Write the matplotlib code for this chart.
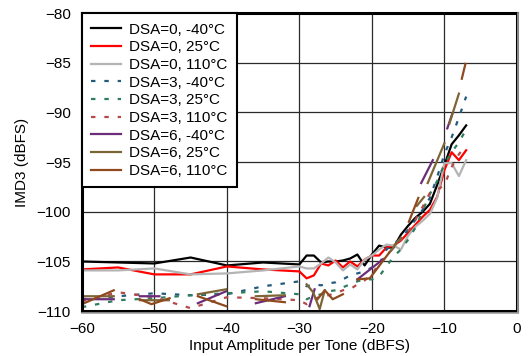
import numpy as np
import matplotlib
matplotlib.use("Agg")
import matplotlib.pyplot as plt
from matplotlib.lines import Line2D

nan = np.nan

# input amplitude grid for DSA=0 / DSA=3 sweeps
x_amp = [-60, -55, -50, -45, -40, -35, -30, -29, -28, -27, -26, -25, -24, -23, -22,
         -21, -20, -19, -18, -17, -16, -15, -14, -13, -12, -11, -10, -9, -8, -7]

dsa0_m40 = [-105.0, -105.1, -105.2, -104.6, -105.4, -105.1, -105.3, -104.4, -104.4, -105.1,
            -105.0, -105.0, -104.9, -104.7, -104.3, -105.4, -104.3, -103.4, -103.6, -103.6,
            -102.3, -101.4, -100.6, -100.0, -99.2, -97.3, -95.3, -93.2, -92.3, -91.3]
dsa0_25 = [-105.8, -105.6, -106.3, -106.3, -105.5, -105.8, -106.0, -106.7, -106.4, -105.2,
           -105.4, -104.9, -105.6, -105.0, -105.5, -104.8, -104.4, -104.4, -103.6, -103.4,
           -102.9, -102.1, -101.3, -100.5, -99.8, -98.5, -95.8, -94.0, -94.8, -93.8]
dsa0_110 = [-105.9, -105.9, -105.7, -106.3, -106.2, -105.9, -105.5, -105.7, -105.7, -105.2,
            -104.6, -105.1, -105.9, -105.3, -105.8, -104.8, -104.4, -103.8, -103.3, -103.4,
            -103.8, -102.4, -101.5, -100.9, -100.2, -98.6, -95.1, -95.1, -96.4, -94.8]

dsa3_m40 = [-108.8, -108.5, -108.2, -108.4, -108.3, -107.5, -107.0, -107.5, -107.3, -107.4,
            -107.2, -107.1, -106.8, -106.4, -106.2, -106.0, -105.6, -105.3, -103.8, -103.2,
            -102.7, -101.8, -100.8, -99.8, -98.6, -96.5, -94.2, -92.5, -90.5, -88.4]
dsa3_25 = [-109.6, -108.9, -108.7, -108.4, -108.2, -108.0, -108.3, -108.8, -108.5, -108.3,
           -108.0, -107.9, -107.6, -107.3, -107.0, -106.8, -106.8, -106.5, -105.5, -104.5,
           -103.8, -102.8, -101.6, -99.9, -98.2, -96.9, -95.2, -94.0, -93.0, -91.7]
dsa3_110 = [-109.0, -108.1, -108.6, -109.7, -108.6, -108.7, -108.9, -109.3, -108.8, -108.5,
            -108.4, -108.2, -107.9, -107.8, -107.3, -106.9, -106.3, -105.2, -104.5, -103.6,
            -102.8, -102.0, -100.8, -99.5, -98.1, -97.8, -97.3, -95.5, -94.2, -93.3]

# DSA=6 sweeps are broken into fragments (nan = gap)
dsa6_m40_x = [-60, -55.6, nan, -52, -49.3, nan, -44, -40.1, nan, -36, -32, nan, -28.6, -27.9,
              nan, -22, -18.5, nan, -13.2, -11.6, nan, -9.6, -8.9]
dsa6_m40_y = [-108.8, -108.8, nan, -108.5, -108.5, nan, -109.2, -108.0, nan, -109.2, -108.5, nan,
              -109.5, -107.8, nan, -106.8, -104.8, nan, -97.1, -94.8, nan, -91.6, -90.1]
dsa6_25_x = [-60, -55.6, nan, -52, -48, nan, -44, -40.1, nan, -36, -32, nan, -29, -28.1, -27.2,
             -26.5, nan, -17.6, -16, nan, -13.8, -12.8, nan, -12.3, -10, nan, -9.3, -8]
dsa6_25_y = [-108.5, -108.5, nan, -108.9, -108.9, nan, -108.3, -107.8, nan, -108.5, -108.4, nan,
             -107.3, -108.1, -109.8, -107.9, nan, -104.1, -102.6, nan, -99.4, -98.5, nan,
             -97.1, -93.1, nan, -91.1, -88.1]
dsa6_110_x = [-60, -55.6, nan, -52, -50.4, -47.9, nan, -44, -40.1, nan, -36, -32, nan, -27.5,
              -26.5, -25.4, -24, nan, -22, -20.3, -17.6, nan, -14.9, -13.6, nan, -7.6, -7.1]
dsa6_110_y = [-109.3, -107.9, nan, -108.8, -109.3, -108.7, nan, -108.5, -109.5, nan, -108.8,
              -109.1, nan, -108.8, -107.9, -108.8, -108.3, nan, -106.8, -106.7, -104.1, nan,
              -101.0, -98.6, nan, -86.6, -85.1]

plt.rcParams['font.family'] = ['Liberation Sans', 'DejaVu Sans']

fig = plt.figure(figsize=(5.28, 3.56), dpi=100)
ax = fig.add_axes([0.155, 0.126, 0.824, 0.837])

lw = 1.6
dash = (0, (2, 4))
ax.plot(x_amp, dsa0_m40, color='black', lw=lw, label='DSA=0, -40°C')
ax.plot(x_amp, dsa0_25, color='#ff0000', lw=lw, label='DSA=0, 25°C')
ax.plot(x_amp, dsa0_110, color='#b4b4b4', lw=lw, label='DSA=0, 110°C')
ax.plot(x_amp, dsa3_m40, color='#235b7c', lw=lw, ls=dash, label='DSA=3, -40°C')
ax.plot(x_amp, dsa3_25, color='#2e7d5c', lw=lw, ls=dash, label='DSA=3, 25°C')
ax.plot(x_amp, dsa3_110, color='#b54a4a', lw=lw, ls=dash, label='DSA=3, 110°C')
ax.plot(dsa6_m40_x, dsa6_m40_y, color='#6b2c7a', lw=lw, label='DSA=6, -40°C')
ax.plot(dsa6_25_x, dsa6_25_y, color='#7d6535', lw=lw, label='DSA=6, 25°C')
ax.plot(dsa6_110_x, dsa6_110_y, color='#8e4a1e', lw=lw, label='DSA=6, 110°C')

ax.set_xlim(-60, 0)
ax.set_ylim(-110, -80)
ax.set_xticks(range(-60, 1, 10))
ax.set_yticks(range(-110, -79, 5))
ax.grid(True, color='#2a2a2a', lw=0.9)
ax.tick_params(length=0, pad=8, labelsize=11)
for s in ax.spines.values():
    s.set_linewidth(2.2)
    s.set_color('black')

# grey drop shadow along right and bottom of the frame
fig.add_artist(Line2D([0.981, 0.981], [0.122, 0.963], color='#a0a0a0', lw=1.2))
fig.add_artist(Line2D([0.155, 0.981], [0.122, 0.122], color='#a0a0a0', lw=1.2))

ax.set_xlabel('Input Amplitude per Tone (dBFS)', fontsize=11, labelpad=2)
ax.set_ylabel('IMD3 (dBFS)', fontsize=11, labelpad=5)

leg = ax.legend(loc='upper left', bbox_to_anchor=(0, 1), borderaxespad=0, fontsize=11,
                fancybox=False, framealpha=1, edgecolor='black', labelspacing=0.24,
                handlelength=1.96, handletextpad=0.52, borderpad=0.62)
leg.get_frame().set_linewidth(1.5)

fig.savefig('out.png', dpi=100)
